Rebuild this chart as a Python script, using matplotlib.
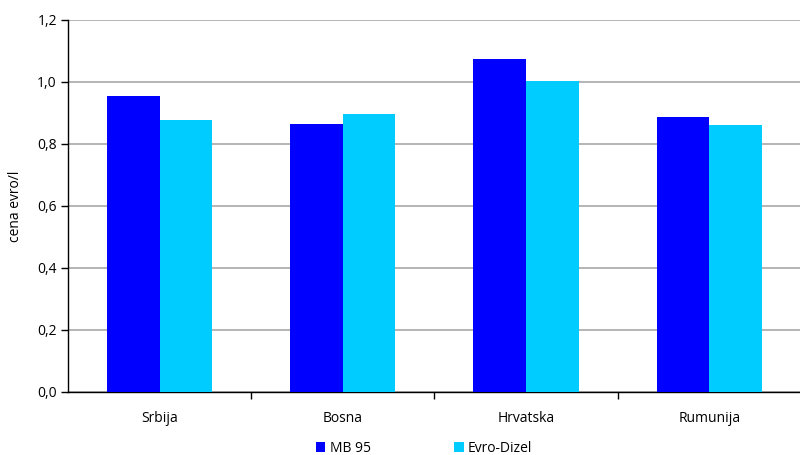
import matplotlib.pyplot as plt
import numpy as np
from matplotlib.ticker import FuncFormatter, MultipleLocator

countries = ["Srbija", "Bosna", "Hrvatska", "Rumunija"]
mb95 = [0.954, 0.864, 1.073, 0.886]
dizel = [0.877, 0.896, 1.002, 0.860]

plt.rcParams["font.family"] = ["Open Sans", "DejaVu Sans"]
plt.rcParams["font.size"] = 10

fig = plt.figure(figsize=(8, 4.55), dpi=100)
ax = fig.add_axes([0.085, 0.1385, 0.916, 0.818])

x = np.arange(len(countries))
w = 0.287
ax.bar(x - w / 2, mb95, w, color="#0000ff", label="MB 95", zorder=3)
ax.bar(x + w / 2, dizel, w, color="#00ccff", label="Evro-Dizel", zorder=3)

ax.set_xlim(-0.5, len(countries) - 0.5)
ax.set_ylim(0, 1.2)
ax.yaxis.set_major_locator(MultipleLocator(0.2))
ax.yaxis.set_major_formatter(FuncFormatter(lambda v, p: f"{v:.1f}".replace(".", ",")))
ax.grid(axis="y", color="#a8a8a8", linewidth=1.2, zorder=0)

ax.set_xticks(x)
ax.set_xticklabels(countries)
ax.set_xticks(np.arange(0.5, len(countries) - 1, 1), minor=True)
ax.tick_params(axis="x", which="major", length=0, pad=14)
ax.tick_params(axis="x", which="minor", length=5, width=1, direction="out")
ax.tick_params(axis="y", length=5, width=1, direction="out", pad=3)

for s in ("top", "right"):
    ax.spines[s].set_visible(False)
ax.spines["left"].set_linewidth(1)
ax.spines["bottom"].set_linewidth(1)

ax.set_ylabel("cena evro/l", labelpad=10)

fig.legend(loc="lower center", bbox_to_anchor=(0.53, -0.03), ncol=2, frameon=False,
           handlelength=0.7, handleheight=0.7, handletextpad=0.3, columnspacing=6)

fig.savefig("out.png", dpi=100)
